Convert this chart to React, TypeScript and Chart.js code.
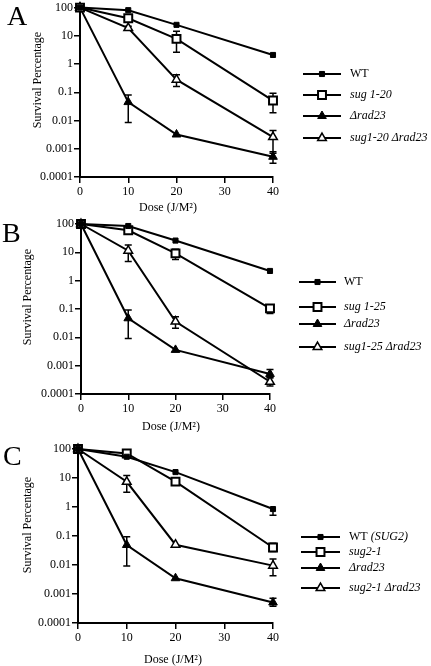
import React, { useEffect, useRef } from 'react';
import { Chart, registerables } from 'chart.js';

Chart.register(...registerables);

// ---------- shared axes ----------
const doses = [0, 10, 20, 40];
const yTickValues = [0.0001, 0.001, 0.01, 0.1, 1, 10, 100];
const yTickLabels = ['0.0001', '0.001', '0.01', '0.1', '1', '10', '100'];
const xTitle = 'Dose (J/M\u00B2)';
const yTitle = 'Survival Percentage';

// ---------- Panel A ----------
const aLabels = ['WT', 'sug 1-20', '\u0394rad23', 'sug1-20 \u0394rad23'];
const aWT = [100, 81, 24.5, 2.1];
const aWTHi = [null, null, null, null];
const aWTLo = [null, null, null, null];
const aSug = [100, 42, 7.8, 0.051];
const aSugHi = [null, null, 14.4, 0.093];
const aSugLo = [null, null, 2.6, 0.019];
const aRad = [100, 0.045, 0.0032, 0.00052];
const aRadHi = [null, 0.081, null, 0.00078];
const aRadLo = [null, 0.0085, null, 0.00031];
const aSugRad = [100, 18.8, 0.28, 0.0026];
const aSugRadHi = [null, 22, 0.42, 0.0044];
const aSugRadLo = [null, 16, 0.16, 0.0007];

// ---------- Panel B ----------
const bLabels = ['WT', 'sug 1-25', '\u0394rad23', 'sug1-25 \u0394rad23'];
const bWT = [100, 85, 26, 2.2];
const bWTHi = [null, null, null, null];
const bWTLo = [null, null, null, null];
const bSug = [100, 60, 9.2, 0.105];
const bSugHi = [null, null, 12.8, 0.12];
const bSugLo = [null, null, 5.6, 0.07];
const bRad = [100, 0.047, 0.0036, 0.00051];
const bRadHi = [null, 0.092, null, 0.00073];
const bRadLo = [null, 0.0091, null, 0.00037];
const bSugRad = [100, 11.4, 0.036, 0.00027];
const bSugRadHi = [null, 18, 0.053, 0.00039];
const bSugRadLo = [null, 4.7, 0.021, 0.00019];

// ---------- Panel C ----------
const cLabels = ['WT (SUG2)', 'sug2-1', '\u0394rad23', 'sug2-1 \u0394rad23'];
const cWT = [100, 54, 16, 0.85];
const cWTHi = [null, null, null, null];
const cWTLo = [null, null, null, 0.52];
const cSug = [100, 70, 7.5, 0.04];
const cSugHi = [null, null, null, 0.056];
const cSugLo = [null, null, null, 0.029];
const cRad = [100, 0.049, 0.0035, 0.00051];
const cRadHi = [null, 0.095, null, 0.00071];
const cRadLo = [null, 0.0092, null, 0.00038];
const cSugRad = [100, 7.4, 0.05, 0.0095];
const cSugRadHi = [null, 12.3, null, 0.016];
const cSugRadLo = [null, 3.2, null, 0.0043];

const FONT = '"Liberation Serif", "Times New Roman", serif';

type Series = { label: string; values: number[]; hi: (number | null)[]; lo: (number | null)[] };

const styles = [
  { pointStyle: 'rect', radius: 3.6, fill: '#000', border: 1 },
  { pointStyle: 'rect', radius: 5.6, fill: '#fff', border: 2 },
  { pointStyle: 'triangle', radius: 5, fill: '#000', border: 1 },
  { pointStyle: 'triangle', radius: 5, fill: '#fff', border: 1.5 },
];

function makeSeries(labels: string[], vals: number[][], his: (number | null)[][], los: (number | null)[][]): Series[] {
  return labels.map((label, i) => ({ label, values: vals[i], hi: his[i], lo: los[i] }));
}

const panels = [
  {
    letter: 'A', top: 0, height: 216, left: 80, right: 273, areaTop: 4, areaBottom: 177,
    letterX: 7, letterY: 25, yTitleX: 38, yTitleY: 80, xTitleX: 168, xTitleY: 208,
    legX1: 303, legX2: 341, legTextX: 350, legRows: [74, 95, 116, 138],
    series: makeSeries(aLabels, [aWT, aSug, aRad, aSugRad], [aWTHi, aSugHi, aRadHi, aSugRadHi], [aWTLo, aSugLo, aRadLo, aSugRadLo]),
  },
  {
    letter: 'B', top: 216, height: 216, left: 81, right: 270, areaTop: 8, areaBottom: 178,
    letterX: 2, letterY: 26, yTitleX: 28, yTitleY: 81, xTitleX: 171, xTitleY: 211,
    legX1: 299, legX2: 336, legTextX: 344, legRows: [66, 91, 108, 131],
    series: makeSeries(bLabels, [bWT, bSug, bRad, bSugRad], [bWTHi, bSugHi, bRadHi, bSugRadHi], [bWTLo, bSugLo, bRadLo, bSugRadLo]),
  },
  {
    letter: 'C', top: 432, height: 234, left: 78, right: 273, areaTop: 17, areaBottom: 191,
    letterX: 3, letterY: 33, yTitleX: 28, yTitleY: 93, xTitleX: 173, xTitleY: 228,
    legX1: 301, legX2: 340, legTextX: 349, legRows: [105, 120, 136, 156],
    series: makeSeries(cLabels, [cWT, cSug, cRad, cSugRad], [cWTHi, cSugHi, cRadHi, cSugRadHi], [cWTLo, cSugLo, cRadLo, cSugRadLo]),
  },
];

function drawMarker(ctx: CanvasRenderingContext2D, style: string, r: number, x: number, y: number, fill: string, lw: number) {
  ctx.beginPath();
  if (style === 'rect') {
    const s = r * Math.SQRT1_2;
    ctx.rect(x - s, y - s, 2 * s, 2 * s);
  } else {
    let rad = 0;
    ctx.moveTo(x + Math.sin(rad) * r, y - Math.cos(rad) * r);
    rad += (2 * Math.PI) / 3;
    ctx.lineTo(x + Math.sin(rad) * r, y - Math.cos(rad) * r);
    rad += (2 * Math.PI) / 3;
    ctx.lineTo(x + Math.sin(rad) * r, y - Math.cos(rad) * r);
    ctx.closePath();
  }
  ctx.fillStyle = fill;
  ctx.fill();
  ctx.lineWidth = lw;
  ctx.strokeStyle = '#000';
  ctx.stroke();
}

const errorBarPlugin = {
  id: 'errbars',
  beforeDatasetsDraw(chart: any) {
    const ctx = chart.ctx as CanvasRenderingContext2D;
    const xs = chart.scales.x;
    const ys = chart.scales.y;
    ctx.save();
    ctx.strokeStyle = '#000';
    ctx.lineWidth = 1.5;
    chart.data.datasets.forEach((ds: any) => {
      ds.data.forEach((p: any, i: number) => {
        const hi = ds.errHi[i];
        const lo = ds.errLo[i];
        if (hi == null && lo == null) return;
        const x = xs.getPixelForValue(p.x);
        const yv = ys.getPixelForValue(p.y);
        const yh = hi != null ? ys.getPixelForValue(hi) : yv;
        const yl = lo != null ? ys.getPixelForValue(lo) : yv;
        ctx.beginPath();
        ctx.moveTo(x, yh);
        ctx.lineTo(x, yl);
        if (hi != null) { ctx.moveTo(x - 3.5, yh); ctx.lineTo(x + 3.5, yh); }
        if (lo != null) { ctx.moveTo(x - 3.5, yl); ctx.lineTo(x + 3.5, yl); }
        ctx.stroke();
      });
    });
    ctx.restore();
  },
};

const decorPlugin = {
  id: 'decor',
  afterDraw(chart: any, _args: any, opts: any) {
    const ctx = chart.ctx as CanvasRenderingContext2D;
    ctx.save();
    ctx.fillStyle = '#000';
    // panel letter
    ctx.font = `28px ${FONT}`;
    ctx.textAlign = 'left';
    ctx.textBaseline = 'alphabetic';
    ctx.fillText(opts.letter, opts.letterX, opts.letterY);
    // axis titles
    ctx.font = `12px ${FONT}`;
    ctx.textAlign = 'center';
    ctx.textBaseline = 'middle';
    ctx.fillText(xTitle, opts.xTitleX, opts.xTitleY);
    ctx.save();
    ctx.translate(opts.yTitleX, opts.yTitleY);
    ctx.rotate(-Math.PI / 2);
    ctx.fillText(yTitle, 0, 0);
    ctx.restore();
    // legend
    chart.data.datasets.forEach((ds: any, i: number) => {
      const y = opts.legRows[i];
      ctx.strokeStyle = '#000';
      ctx.lineWidth = 2;
      ctx.beginPath();
      ctx.moveTo(opts.legX1, y);
      ctx.lineTo(opts.legX2, y);
      ctx.stroke();
      drawMarker(ctx, ds.pointStyle, ds.pointRadius, (opts.legX1 + opts.legX2) / 2, y, ds.pointBackgroundColor, ds.pointBorderWidth);
      ctx.fillStyle = '#000';
      ctx.textAlign = 'left';
      ctx.textBaseline = 'middle';
      const label: string = ds.label;
      if (label.startsWith('WT')) {
        ctx.font = `12px ${FONT}`;
        ctx.fillText('WT', opts.legTextX, y);
        const w = ctx.measureText('WT ').width;
        const rest = label.slice(3);
        if (rest) {
          ctx.font = `italic 12px ${FONT}`;
          ctx.fillText(rest, opts.legTextX + w, y);
        }
      } else {
        ctx.font = `italic 12px ${FONT}`;
        ctx.fillText(label, opts.legTextX, y);
      }
    });
    ctx.restore();
  },
};

function Panel({ p }: { p: (typeof panels)[number] }) {
  const ref = useRef<HTMLCanvasElement>(null);
  useEffect(() => {
    const canvas = ref.current!;
    const datasets = p.series.map((s, i) => ({
      label: s.label,
      data: doses.map((d, j) => ({ x: d, y: s.values[j] })),
      errHi: s.hi,
      errLo: s.lo,
      borderColor: '#000',
      borderWidth: 2,
      pointStyle: styles[i].pointStyle,
      pointRadius: styles[i].radius,
      pointBackgroundColor: styles[i].fill,
      pointBorderColor: '#000',
      pointBorderWidth: styles[i].border,
      tension: 0,
      fill: false,
      clip: false,
    }));
    const chart = new Chart(canvas, {
      type: 'line',
      data: { datasets } as any,
      plugins: [errorBarPlugin, decorPlugin],
      options: {
        responsive: false,
        animation: false,
        devicePixelRatio: 1,
        layout: { padding: { left: 0, right: 431 - p.right, top: p.areaTop, bottom: 0 } },
        plugins: {
          legend: { display: false },
          tooltip: { enabled: false },
          decor: p,
        } as any,
        scales: {
          x: {
            type: 'linear',
            min: 0,
            max: 40,
            ticks: { stepSize: 10, color: '#000', font: { family: FONT, size: 12 }, padding: 2, maxRotation: 0 },
            grid: { drawOnChartArea: false, drawTicks: true, tickLength: 6, color: '#000', lineWidth: 1.5 },
            border: { display: true, color: '#000', width: 2 },
            afterFit: (s: any) => {
              s.height = p.height - p.areaBottom;
              s.paddingLeft = 0;
              s.paddingRight = 0;
            },
          },
          y: {
            type: 'logarithmic',
            min: 0.0001,
            max: 100,
            afterBuildTicks: (s: any) => {
              s.ticks = yTickValues.map((v) => ({ value: v }));
            },
            ticks: {
              autoSkip: false,
              color: '#000',
              font: { family: FONT, size: 12 },
              padding: 1,
              callback: (_v: any, idx: number) => yTickLabels[idx],
            },
            grid: { drawOnChartArea: false, drawTicks: true, tickLength: 6, color: '#000', lineWidth: 1.5 },
            border: { display: true, color: '#000', width: 2 },
            afterFit: (s: any) => {
              s.width = p.left;
              s.paddingTop = 0;
              s.paddingBottom = 0;
            },
          },
        } as any,
      },
    } as any);
    return () => chart.destroy();
  }, [p]);
  return (
    <canvas
      ref={ref}
      width={431}
      height={p.height}
      style={{ position: 'absolute', left: 0, top: p.top, width: 431, height: p.height }}
    />
  );
}

export default function App() {
  return (
    <div style={{ position: 'fixed', left: 0, top: 0, width: 431, height: 666, background: '#fff', overflow: 'hidden' }}>
      {panels.map((p) => (
        <Panel key={p.letter} p={p} />
      ))}
    </div>
  );
}
